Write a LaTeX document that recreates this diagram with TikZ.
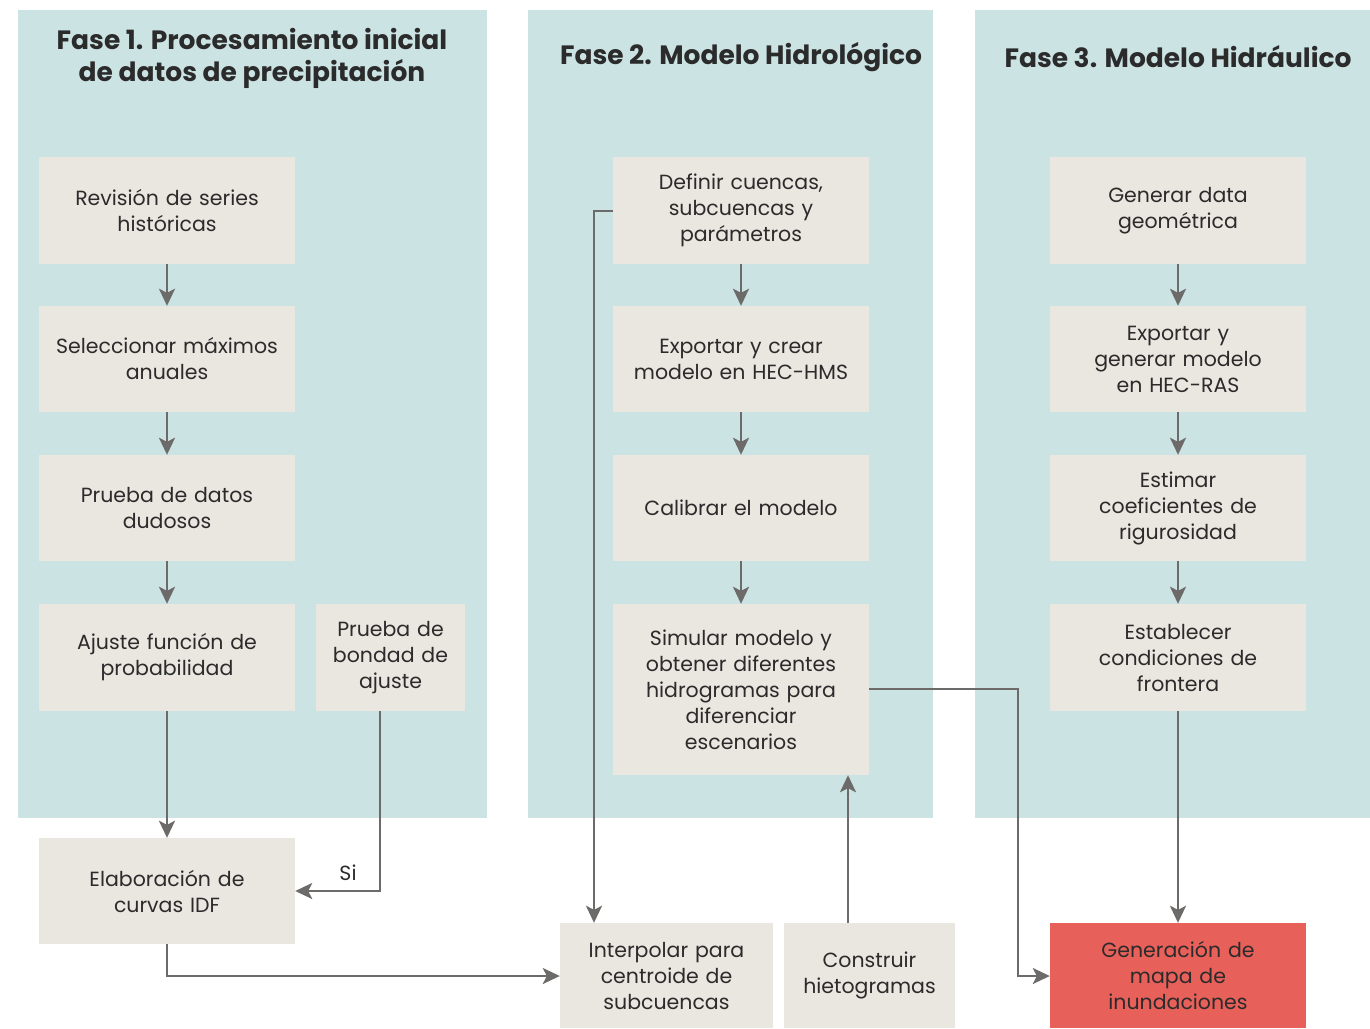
\documentclass[tikz,border=0pt]{standalone}
\usepackage{fontspec}
\setmainfont{Poppins}
\usetikzlibrary{arrows.meta}
\definecolor{panel}{HTML}{CCE3E3}
\definecolor{boxc}{HTML}{EAE6E0}
\definecolor{redc}{HTML}{E8605A}
\definecolor{linec}{HTML}{6D6B6A}
\definecolor{txt}{HTML}{2B2B2B}
\begin{document}
\begin{tikzpicture}[x=1pt,y=-1pt,
  panelbox/.style={fill=panel,draw=none},
  stepbox/.style={fill=boxc,draw=none,inner sep=0pt,align=center,text=txt,
    font=\fontsize{20.5}{26}\selectfont},
  hotbox/.style={stepbox,fill=redc},
  title/.style={align=center,text=txt,font=\fontsize{26.5}{32}\selectfont\bfseries},
  arr/.style={draw=linec,line width=2.2pt,-{Stealth[length=17pt,width=16pt,inset=4pt]}}]
\useasboundingbox (0,0) rectangle (1370,1028);
% panels
\fill[panel] (18,10) rectangle (487,818);
\fill[panel] (528,10) rectangle (933,818);
\fill[panel] (975,10) rectangle (1370,818);
\node[title] (t1) at (252,58) {Fase 1. Procesamiento inicial\\de datos de precipitación};
\node[title] (t2) at (741,57) {Fase 2. Modelo Hidrológico};
\node[title] (t3) at (1178,57) {Fase 3. Modelo Hidráulico};
% generic box macro
\newcommand{\bx}[7]{\node[#1,minimum width=#4pt,minimum height=#5pt,text width=#6pt] (#2) at (#3) {#7};}
% column 1
\bx{stepbox}{a1}{167,210.5}{256}{107}{250}{Revisión de series\\históricas}
\bx{stepbox}{a2}{167,359}{256}{106}{250}{Seleccionar máximos\\anuales}
\bx{stepbox}{a3}{167,508}{256}{106}{250}{Prueba de datos\\dudosos}
\bx{stepbox}{a4}{167,657.5}{256}{107}{250}{Ajuste función de\\probabilidad}
\bx{stepbox}{a5}{390.5,657.5}{149}{107}{145}{Prueba de\\bondad de\\ajuste}
\bx{stepbox}{a6}{167,891}{256}{106}{250}{Elaboración de\\curvas IDF}
% column 2
\bx{stepbox}{b1}{741,210.5}{256}{107}{250}{Definir cuencas,\\subcuencas y\\parámetros}
\bx{stepbox}{b2}{741,359}{256}{106}{250}{Exportar y crear\\modelo en HEC-HMS}
\bx{stepbox}{b3}{741,508}{256}{106}{250}{Calibrar el modelo}
\bx{stepbox}{b4}{741,689.5}{256}{171}{250}{Simular modelo y\\obtener diferentes\\hidrogramas para\\diferenciar\\escenarios}
\bx{stepbox}{b5}{666.5,975.5}{213}{105}{208}{Interpolar para\\centroide de\\subcuencas}
\bx{stepbox}{b6}{869.5,975.5}{171}{105}{166}{Construir\\hietogramas}
% column 3
\bx{stepbox}{c1}{1178,210.5}{256}{107}{250}{Generar data\\geométrica}
\bx{stepbox}{c2}{1178,359}{256}{106}{250}{Exportar y\\generar modelo\\en HEC-RAS}
\bx{stepbox}{c3}{1178,508}{256}{106}{250}{Estimar\\coeficientes de\\rigurosidad}
\bx{stepbox}{c4}{1178,657.5}{256}{107}{250}{Establecer\\condiciones de\\frontera}
\bx{hotbox}{c5}{1178,975.5}{256}{105}{250}{Generación de\\mapa de\\inundaciones}
% arrows column 1
\draw[arr] (a1.south) -- (a2.north);
\draw[arr] (a2.south) -- (a3.north);
\draw[arr] (a3.south) -- (a4.north);
\draw[arr] (a4.south) -- (a6.north);
\coordinate (s1) at (380,891);
\draw[arr] (a5.south -| s1) -- (s1) -- (a6.east);
\node[stepbox,fill=none,anchor=center] (si) at (348,873) {Si};
\coordinate (e1) at (167,976);
\draw[arr] (a6.south) -- (e1) -- (b5.west |- e1);
% arrows column 2
\draw[arr] (b1.south) -- (b2.north);
\draw[arr] (b2.south) -- (b3.north);
\draw[arr] (b3.south) -- (b4.north);
\coordinate (d1) at (594,211);
\draw[arr] (b1.west |- d1) -- (d1) -- (d1 |- b5.north);
\coordinate (h1) at (848,923);
\draw[arr] (h1) -- (h1 |- b4.south);
\coordinate (r1) at (1018,689);
\coordinate (r2) at (1018,976);
\draw[arr] (b4.east |- r1) -- (r1) -- (r2) -- (c5.west |- r2);
% arrows column 3
\draw[arr] (c1.south) -- (c2.north);
\draw[arr] (c2.south) -- (c3.north);
\draw[arr] (c3.south) -- (c4.north);
\draw[arr] (c4.south) -- (c5.north);
\end{tikzpicture}
\end{document}
